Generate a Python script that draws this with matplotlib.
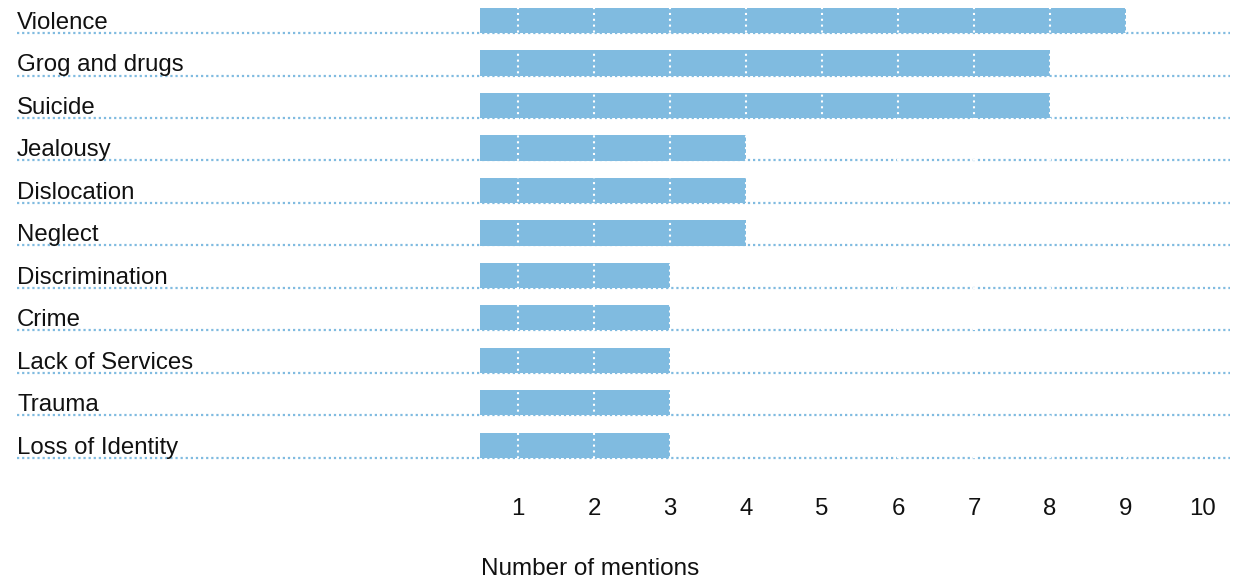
import numpy as np
import matplotlib
matplotlib.use('Agg')
import matplotlib.pyplot as plt
import matplotlib.transforms as mtransforms

plt.rcParams['font.family'] = ['Liberation Sans', 'DejaVu Sans']

# data
categories = ['Violence', 'Grog and drugs', 'Suicide', 'Jealousy', 'Dislocation',
              'Neglect', 'Discrimination', 'Crime', 'Lack of Services', 'Trauma',
              'Loss of Identity']
mentions = [9, 8, 8, 4, 4, 4, 3, 3, 3, 3, 3]
tick_values = [1, 2, 3, 4, 5, 6, 7, 8, 9, 10]
x_label = 'Number of mentions'

bar_color = '#80bbe0'
W, H = 1233, 582

fig = plt.figure(figsize=(W / 100, H / 100), dpi=100)
ax = fig.add_axes([480 / W, 1 - 470 / H, 750 / W, 470 / H])

y = np.arange(len(categories))
ax.barh(y, mentions, height=-0.59, align='edge', color=bar_color, zorder=2)

ax.set_xlim(0.5, 0.5 + 750 / 76)
ax.set_ylim(10 + 12 / 42.5, -33 / 42.5)

# white dotted gridlines over the bars
for v in tick_values:
    ax.axvline(v, color='white', lw=1.5, dashes=(1, 1.8), zorder=3)

# dotted baselines and labels spanning the whole figure
trans = mtransforms.blended_transform_factory(fig.transFigure, ax.transData)
for yi, name in zip(y, categories):
    ax.plot([17 / W, 1230 / W], [yi, yi], transform=trans, color=bar_color,
            lw=1.6, dashes=(1, 1.3), clip_on=False, zorder=1)
    ax.text(17 / W, yi - 0.1, name, transform=trans, ha='left', va='baseline',
            fontsize=17.3, color='#111111')

ax.set_xticks(tick_values)
ax.set_xticklabels([str(v) for v in tick_values], fontsize=17.3, color='#111111')
ax.tick_params(axis='x', length=0, pad=20)
ax.set_yticks([])
for s in ax.spines.values():
    s.set_visible(False)

fig.text(481 / W, 1 - 569 / H, x_label, ha='left', va='center', fontsize=17.5,
         color='#111111')

plt.savefig('out.png', dpi=100)
